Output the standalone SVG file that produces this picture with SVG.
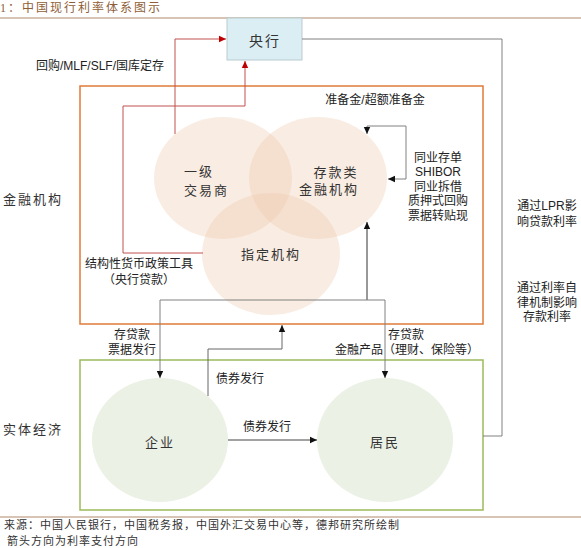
<svg xmlns="http://www.w3.org/2000/svg" width="581" height="548" viewBox="0 0 581 548">
<style>
.lbl{font-family:"Liberation Sans","Noto Sans CJK SC",sans-serif;font-size:12px;fill:#222}
.ser{font-family:"Liberation Serif","Noto Sans CJK SC",serif;font-size:13px;fill:#333;letter-spacing:2px}
.cap{font-family:"Liberation Serif","Noto Sans CJK SC",serif;fill:#333}
.peach{fill:#efc9ad;fill-opacity:0.35}
.green{fill:#ebf1e5}
.gl{fill:none;stroke:#808080;stroke-width:1}
.bl{fill:none;stroke:#333;stroke-width:1}
.rl{fill:none;stroke:#c0504d;stroke-width:1}
</style>
<defs>
<marker id="ab" markerWidth="8" markerHeight="8" refX="7" refY="4" orient="auto" markerUnits="userSpaceOnUse"><path d="M0,0.8 L7,4 L0,7.2 Z" fill="#111"/></marker>
<marker id="ar" markerWidth="8" markerHeight="8" refX="7" refY="4" orient="auto" markerUnits="userSpaceOnUse"><path d="M0,0.8 L7,4 L0,7.2 Z" fill="#c00000"/></marker>
</defs>
<rect width="581" height="548" fill="#fff"/>
<text x="0" y="12" class="cap" style="font-size:12px;fill:#8f5e38;letter-spacing:2px">1：中国现行利率体系图示</text>
<line x1="0" y1="18" x2="581" y2="18" stroke="#b08a6a" stroke-width="1.2"/>
<g id="frame-fin"><rect x="80" y="86" width="403" height="238" fill="none" stroke="#e07b39" stroke-width="1.5"/></g>
<g id="frame-real"><rect x="80" y="360" width="403" height="150" fill="none" stroke="#9bbb59" stroke-width="1.5"/></g>
<g id="pboc"><rect x="227" y="18" width="75" height="42" fill="#daeef3" stroke="#b9cbd0"/><text x="265" y="46" class="ser" style="font-size:14px" text-anchor="middle">央行</text></g>
<g id="dealer"><ellipse cx="223" cy="178" rx="69" ry="61" class="peach"/><text x="184" y="176" class="ser">一级</text><text x="184" y="195" class="ser">交易商</text></g>
<g id="deposit"><ellipse cx="318" cy="178" rx="69" ry="61" class="peach"/><text x="336" y="177" class="ser" text-anchor="middle">存款类</text><text x="329" y="194" class="ser" text-anchor="middle">金融机构</text></g>
<g id="designated"><ellipse cx="271" cy="254" rx="69" ry="61" class="peach"/><text x="271" y="259" class="ser" text-anchor="middle">指定机构</text></g>
<g id="firm"><ellipse cx="160" cy="440" rx="68" ry="62" class="green"/><text x="160" y="447" class="ser" text-anchor="middle">企业</text></g>
<g id="household"><ellipse cx="385" cy="440" rx="68" ry="62" class="green"/><text x="385" y="447" class="ser" text-anchor="middle">居民</text></g>
<g id="connectors">
<path d="M175,134 V39 H226" class="rl" marker-end="url(#ar)"/>
<path d="M203,253 H123 V106 H245 V61" class="rl" marker-end="url(#ar)"/>
<path d="M302,39 H502 V436 H483" class="gl"/>
<path d="M406,126 H367 V134" class="gl" marker-end="url(#ab)"/>
<path d="M406,126 V179 H388" class="gl" marker-end="url(#ab)"/>
<path d="M367,300 V222" class="bl" marker-end="url(#ab)"/>
<path d="M367,300 H160 V378" class="gl" marker-end="url(#ab)"/>
<path d="M367,300 H385 V378" class="gl" marker-end="url(#ab)"/>
<path d="M208,396 V349 H282 V325" class="gl" style="stroke:#666" marker-end="url(#ab)"/>
<path d="M228,440 H317" class="bl" style="stroke:#444" marker-end="url(#ab)"/>
</g>
<g id="labels">
<text x="100" y="70" class="lbl" text-anchor="middle">回购/MLF/SLF/国库定存</text>
<text x="375" y="104" class="lbl" text-anchor="middle">准备金/超额准备金</text>
<text x="3" y="204" class="cap" style="font-size:13px;letter-spacing:2px">金融机构</text>
<text x="3" y="434" class="cap" style="font-size:13px;letter-spacing:2px">实体经济</text>
<text x="139" y="268" class="lbl" text-anchor="middle">结构性货币政策工具</text>
<text x="139" y="284" class="lbl" text-anchor="middle">（央行贷款）</text>
<text x="438" y="162" class="lbl" text-anchor="middle">同业存单</text>
<text x="438" y="176" class="lbl" text-anchor="middle">SHIBOR</text>
<text x="438" y="191" class="lbl" text-anchor="middle">同业拆借</text>
<text x="438" y="205" class="lbl" text-anchor="middle">质押式回购</text>
<text x="438" y="220" class="lbl" text-anchor="middle">票据转贴现</text>
<text x="547" y="210" class="lbl" text-anchor="middle">通过LPR影</text>
<text x="547" y="226" class="lbl" text-anchor="middle">响贷款利率</text>
<text x="547" y="292" class="lbl" text-anchor="middle">通过利率自</text>
<text x="547" y="307" class="lbl" text-anchor="middle">律机制影响</text>
<text x="547" y="321" class="lbl" text-anchor="middle">存款利率</text>
<text x="132" y="339" class="lbl" text-anchor="middle">存贷款</text>
<text x="132" y="354" class="lbl" text-anchor="middle">票据发行</text>
<text x="406" y="339" class="lbl" text-anchor="middle">存贷款</text>
<text x="335" y="354" class="lbl">金融产品（理财、保险等）</text>
<text x="240" y="383" class="lbl" text-anchor="middle">债券发行</text>
<text x="267" y="431" class="lbl" text-anchor="middle">债券发行</text>
</g>
<line x1="0" y1="517" x2="581" y2="517" stroke="#b08a6a" stroke-width="1.2"/>
<text x="4" y="529" class="cap" style="font-size:11px;letter-spacing:1px">来源：中国人民银行，中国税务报，中国外汇交易中心等，德邦研究所绘制</text>
<text x="7" y="545" class="cap" style="font-size:11px;letter-spacing:1px">箭头方向为利率支付方向</text>
</svg>
